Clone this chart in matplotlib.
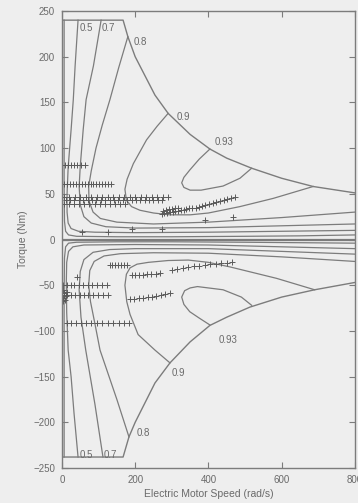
import matplotlib.pyplot as plt

# max / min torque envelope (speed rad/s, torque Nm)
env_up = [(0, 240), (167, 240), (180, 222), (200, 200), (254, 158), (290, 138), (350, 115),
          (404, 99), (450, 89), (518, 78), (600, 67), (686, 58), (800, 51)]
env_dn = [(0, -238), (167, -238), (183, -216), (200, -200), (254, -157), (295, -135),
          (350, -112), (404, -94), (450, -85), (513, -74), (600, -63), (690, -55), (800, -47)]

# efficiency contours, motoring (up) and generating (dn) halves
c_low_up = [(6, 240), (6, 150), (6, 60), (7, 20), (10, 9), (18, 5), (40, 3.5), (150, 3),
            (300, 3), (500, 3.5), (650, 4), (800, 5)]
c05_up = [(44, 240), (36, 190), (31, 153), (25, 120), (17, 79), (14, 50), (14, 30), (17, 18),
          (25, 12), (45, 9), (90, 8), (200, 7.5), (400, 8), (600, 9), (800, 10)]
c07_up = [(107, 240), (86, 190), (66, 153), (58, 120), (50, 80), (47, 58), (50, 38), (60, 25),
          (80, 18), (120, 14), (200, 12.5), (400, 13), (600, 15), (800, 17)]
c08_up = [(180, 222), (155, 188), (131, 153), (110, 125), (93, 100), (80, 75), (73, 58),
          (74, 42), (85, 30), (105, 23), (150, 19), (250, 17), (400, 19), (600, 24), (800, 30)]
c09_up = [(290, 138), (260, 124), (231, 109), (195, 83), (178, 66), (172, 55), (176, 43),
          (190, 36), (213, 32), (250, 29), (295, 27), (350, 27), (400, 29), (486, 36),
          (577, 45), (686, 58)]
c093_up = [(404, 99), (375, 88), (349, 76), (333, 68), (327, 62), (333, 57), (350, 54),
           (380, 54), (440, 58.5), (486, 67), (518, 78)]

c_low_dn = [(6, -238), (6, -150), (6, -60), (7, -20), (10, -8), (18, -4), (40, -3), (150, -2.5),
            (300, -2.5), (500, -3), (650, -3.5), (800, -4)]
c05_dn = [(44, -238), (33, -190), (25, -150), (17, -121), (13, -80), (12, -45), (13, -25),
          (18, -13), (30, -8), (60, -6), (200, -5.5), (400, -6), (600, -8), (800, -10)]
c07_dn = [(112, -238), (90, -180), (65, -121), (52, -85), (47, -55), (50, -35), (60, -22),
          (85, -14), (130, -11), (200, -10), (400, -10), (600, -13), (800, -16)]
c08_dn = [(183, -216), (150, -175), (104, -121), (90, -92), (78, -68), (73, -50), (76, -34),
          (88, -24), (115, -18), (160, -15.5), (250, -14.5), (400, -15), (600, -19), (800, -24)]
c09_dn = [(295, -135), (254, -121), (208, -104), (186, -82), (177, -68), (172, -50), (176, -38),
          (186, -31), (205, -27), (236, -25), (290, -23), (345, -22.5), (400, -25), (459, -30),
          (586, -42.5), (690, -55)]
c093_dn = [(404, -93.5), (375, -86), (349, -79), (333, -71), (327, -63), (335, -56), (350, -53),
           (370, -51.5), (440, -55), (490, -63), (518, -72)]

contours = [c_low_up, c05_up, c07_up, c08_up, c09_up, c093_up,
            c_low_dn, c05_dn, c07_dn, c08_dn, c09_dn, c093_dn]

# contour labels: (text, speed, torque)
labels = [("0.5", 49, 231), ("0.7", 108, 231), ("0.8", 195, 216), ("0.9", 313, 134),
          ("0.93", 418, 107), ("0.93", 427, -110), ("0.9", 299, -146), ("0.8", 204, -212),
          ("0.5", 49, -236), ("0.7", 113, -236)]

# operating points, rows of constant torque: (torque, speeds)
rows_up = [
    (81, [8, 16, 24, 33, 42, 52, 62]),
    (61, [6, 14, 22, 30, 38, 46, 54, 62, 70, 78, 86, 94, 102, 110, 118, 126, 134]),
    (47, [5, 20, 35, 50, 65, 80, 95, 110, 125, 140, 155, 170, 185, 200, 215, 230, 245, 260,
          275, 290]),
    (43, [10, 22, 34, 46, 58, 70, 82, 94, 106, 118, 130, 142, 154, 166, 178, 190, 202, 214,
          226, 238, 250, 262, 274]),
    (39, [5, 19, 33, 47, 61, 75, 89, 103, 117, 131, 145, 159, 173]),
]
rows_dn = [
    (-28, [130, 138, 146, 154, 162, 170, 178]),
    (-50, [4, 14, 24, 34, 46, 58, 70, 82, 96, 110, 122]),
    (-61, [5, 15, 25, 36, 48, 60, 72, 85, 98, 112, 126]),
    (-91, [13, 25, 38, 52, 66, 80, 95, 110, 125, 140, 155, 170, 182]),
]
# other operating points (speed, torque)
pts = [(272, 28), (280, 29), (288, 29), (295, 30), (302, 30), (310, 31), (318, 31), (325, 32),
       (332, 32), (340, 33), (348, 34), (356, 34), (365, 35), (374, 36), (383, 37), (392, 38),
       (402, 39), (412, 40), (422, 41), (432, 42), (442, 43), (452, 44), (462, 45), (472, 46),
       (276, 31), (284, 32), (292, 33), (300, 33), (308, 34), (316, 34),
       (54, 8.5), (125, 8.5), (192, 11.5), (272, 12), (390, 21), (468, 25),
       (190, -39), (200, -39), (210, -38.5), (220, -38.5), (232, -38), (244, -38), (256, -37.5),
       (268, -37),
       (300, -33), (315, -32), (330, -31), (345, -30), (360, -29), (375, -29), (390, -28),
       (405, -27), (420, -27), (435, -26), (450, -26), (465, -25),
       (186, -65), (198, -65), (210, -64), (222, -64), (234, -63), (246, -63), (258, -62),
       (270, -61), (282, -60), (295, -59),
       (40, -41), (3, -55), (6, -58), (10, -62), (4, -64), (8, -66), (14, -57), (2, -67)]

line_col = "#7c7c7c"
text_col = "#6a6a6a"
bg = "#eeeeee"

fig = plt.figure(figsize=(3.58, 5.03), dpi=100, facecolor=bg)
ax = fig.add_axes([0.173, 0.0696, 0.8184, 0.9085], facecolor=bg)
plt.rcParams["font.family"] = ["Liberation Sans", "DejaVu Sans"]

for env in (env_up, env_dn):
    ax.plot([p[0] for p in env], [p[1] for p in env], color=line_col, lw=1.0)
ax.axhline(0, color=line_col, lw=1.6)

for c in contours:
    ax.plot([p[0] for p in c], [p[1] for p in c], color=line_col, lw=0.9)

mk = dict(ls="none", marker="+", ms=5, mew=0.7, color="#5a5a5a")
for t, speeds in rows_up + rows_dn:
    ax.plot(speeds, [t] * len(speeds), **mk)
ax.plot([p[0] for p in pts], [p[1] for p in pts], **mk)

for txt, w, t in labels:
    ax.text(w, t, txt, fontsize=7, color=text_col, ha="left", va="center",
            family=["Liberation Sans", "DejaVu Sans"])

ax.set_xlim(0, 800)
ax.set_ylim(-250, 250)
ax.set_xticks([0, 200, 400, 600, 800])
ax.set_yticks(range(-250, 251, 50))
ax.tick_params(direction="in", top=True, right=True, length=4, width=0.8, colors=line_col,
               labelcolor=text_col, labelsize=7, pad=5)
for lab in ax.get_xticklabels() + ax.get_yticklabels():
    lab.set_family(["Liberation Sans", "DejaVu Sans"])
for s in ax.spines.values():
    s.set_color(line_col)
    s.set_linewidth(1.0)

ax.set_xlabel("Electric Motor Speed (rad/s)", fontsize=7.5, color=text_col, labelpad=3,
              family=["Liberation Sans", "DejaVu Sans"])
ax.set_ylabel("Torque (Nm)", fontsize=7.5, color=text_col, labelpad=4,
              family=["Liberation Sans", "DejaVu Sans"])

fig.savefig("out.png", dpi=100, facecolor=bg)
